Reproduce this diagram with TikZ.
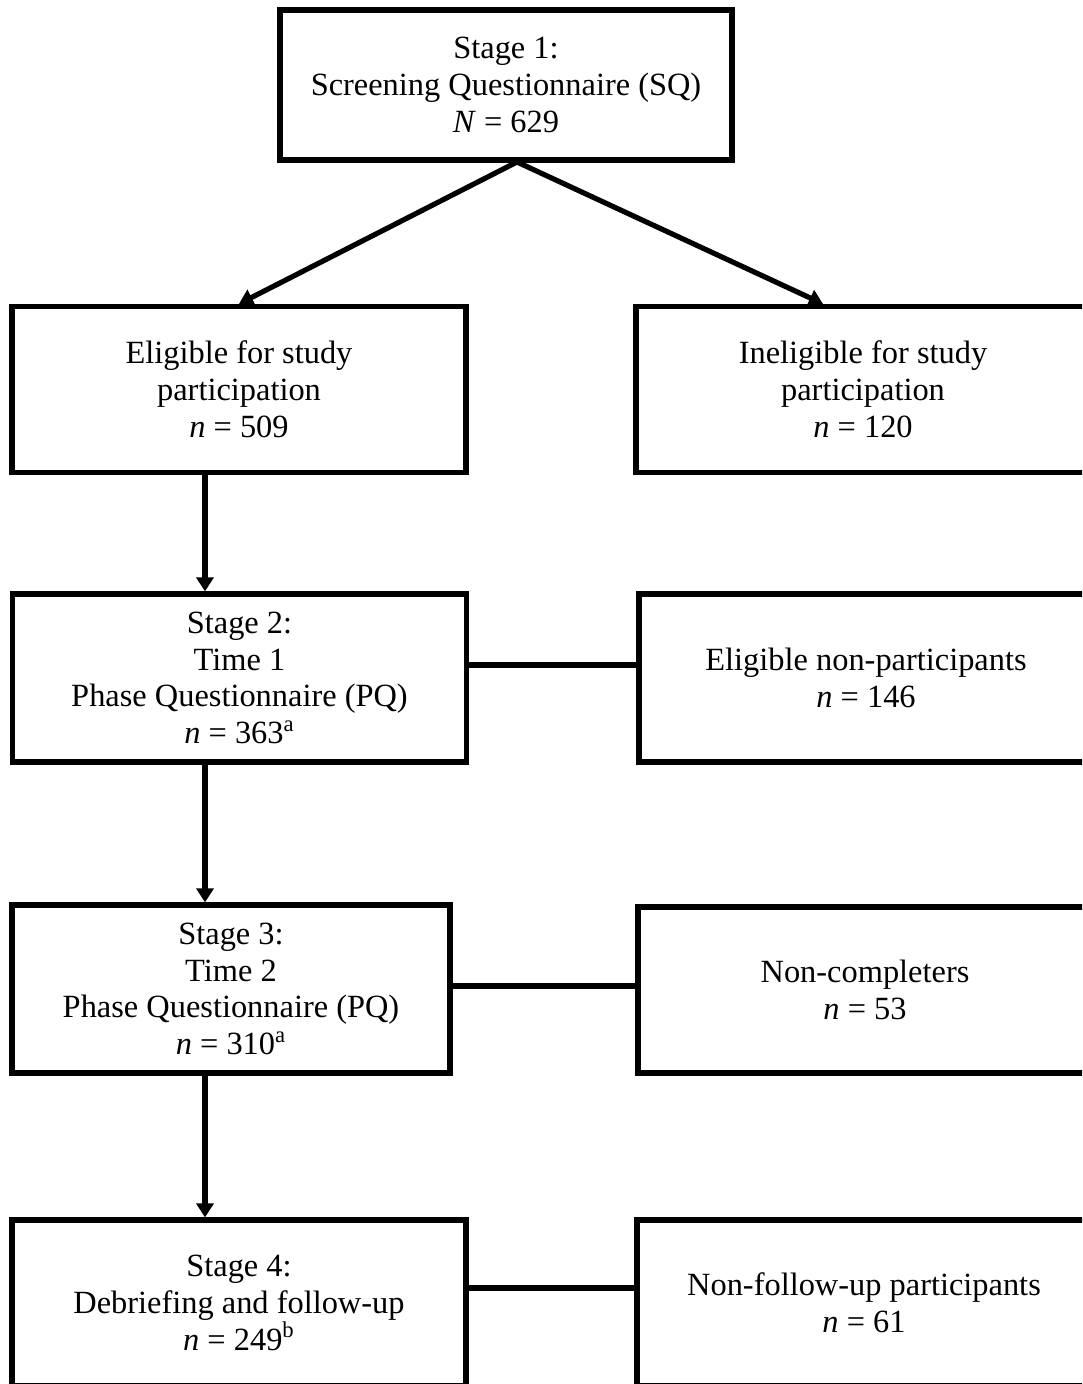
\documentclass[tikz,border=0pt]{standalone}
\usepackage{fontspec}
\setmainfont{Liberation Serif}
\usetikzlibrary{arrows.meta,calc}

\tikzset{
  stagebox/.style={draw, line width=2.6pt, align=center, inner sep=0pt,
    minimum width=227pt, minimum height=83pt,
    font=\fontsize{16.2}{18.4}\selectfont},
  link/.style={line width=2.6pt},
  flow/.style={link, -{Triangle[length=7pt,width=8.5pt]}}
}

\begin{document}
\begin{tikzpicture}[x=0.5pt,y=-0.5pt]
  \useasboundingbox (0,0) rectangle (1082,1384);
  \clip (0,0) rectangle (1082,1384);

  % stage boxes (left column)
  \node[stagebox, minimum width=226pt, minimum height=75pt] (s1) at (506,85)
    {Stage 1:\\Screening Questionnaire (SQ)\\\textit{N} = 629};
  \node[stagebox] (elig) at (239,389.5)
    {Eligible for study\\participation\\\textit{n} = 509};
  \node[stagebox, minimum height=84pt] (s2) at (239.5,678)
    {Stage 2:\\Time 1\\Phase Questionnaire (PQ)\\\textit{n} = 363\textsuperscript{a}};
  \node[stagebox, minimum width=219pt, minimum height=84pt] (s3) at (231,989)
    {Stage 3:\\Time 2\\Phase Questionnaire (PQ)\\\textit{n} = 310\textsuperscript{a}};
  \node[stagebox] (s4) at (239,1303)
    {Stage 4:\\Debriefing and follow-up\\\textit{n} = 249\textsuperscript{b}};

  % drop-out boxes (right column)
  \node[stagebox] (inel) at (863,389.5)
    {Ineligible for study\\participation\\\textit{n} = 120};
  \node[stagebox, minimum height=84pt] (enp) at (866,678)
    {Eligible non-participants\\\textit{n} = 146};
  \node[stagebox] (nc) at (865,990)
    {Non-completers\\\textit{n} = 53};
  \node[stagebox] (nfu) at (864,1303)
    {Non-follow-up participants\\\textit{n} = 61};

  % arrows
  \coordinate (fork) at (517,162);
  \draw[flow] (fork) -- (elig.north);
  \draw[flow] (fork) -- ([xshift=-20pt]inel.north);
  \draw[flow] ([xshift=-17pt]elig.south) -- ([xshift=-17.25pt]s2.north);
  \draw[flow] ([xshift=-17.25pt]s2.south) -- ([xshift=-13pt]s3.north);
  \draw[flow] ([xshift=-13pt]s3.south) -- ([xshift=-17pt]s4.north);

  % side links
  \draw[link] ([yshift=6.5pt]s2.east) -- ([yshift=6.5pt]s2.east -| enp.west);
  \draw[link] ([shift={(-2.5pt,1.5pt)}]s3.east) -- ([yshift=1.5pt]s3.east -| nc.west);
  \draw[link] ([yshift=7.5pt]s4.east) -- ([yshift=7.5pt]s4.east -| nfu.west);
\end{tikzpicture}
\end{document}
